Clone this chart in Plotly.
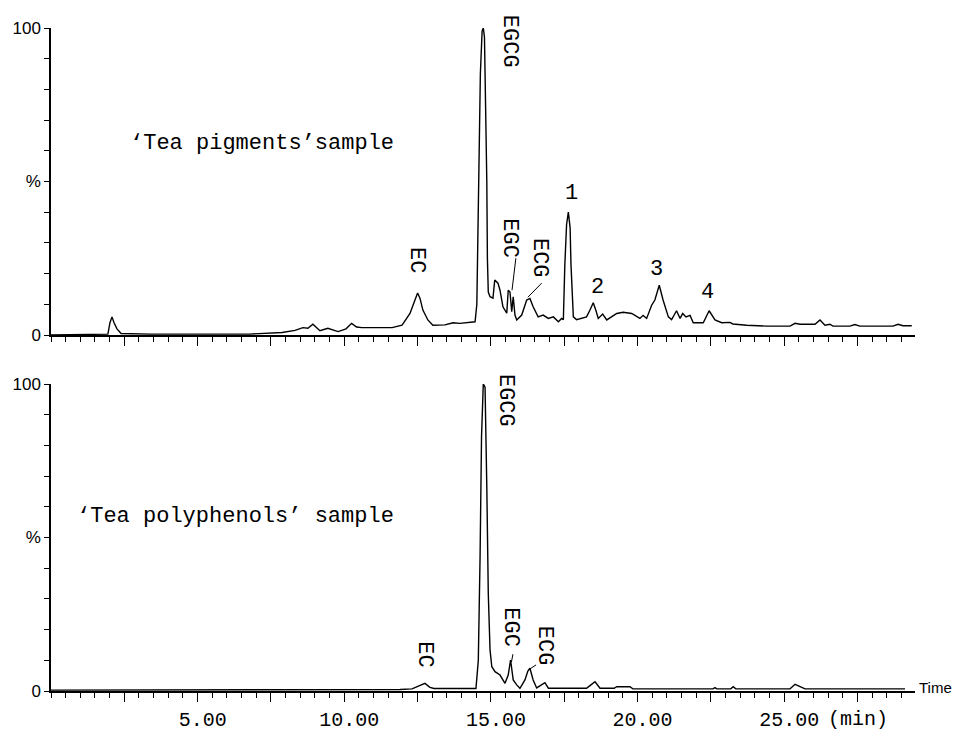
import plotly.graph_objects as go

# ---- data (retention time in min, relative intensity in %) ----
pigments_time = [0.00, 1.74, 1.94, 2.01, 2.08, 2.15, 2.25, 2.39, 3.38, 5.08, 6.78, 7.88, 8.32, 8.59, 8.76,
                 8.93, 9.17, 9.44, 9.79, 10.06, 10.25, 10.42, 10.60, 11.63, 11.83, 11.97, 12.24, 12.38, 12.50,
                 12.58, 12.68, 12.85, 13.02, 13.43, 13.71, 13.94, 14.46, 14.52, 14.59, 14.64, 14.70, 14.74,
                 14.78, 14.81, 14.86, 14.88, 14.91, 14.97, 15.07, 15.13, 15.24, 15.31, 15.41, 15.54, 15.59,
                 15.65, 15.71, 15.76, 15.82, 15.88, 16.05, 16.22, 16.33, 16.44, 16.61, 16.78, 16.96, 17.13,
                 17.30, 17.41, 17.47, 17.52, 17.58, 17.64, 17.70, 17.73, 17.81, 17.92, 18.26, 18.37, 18.49,
                 18.58, 18.66, 18.81, 18.95, 19.29, 19.51, 19.80, 20.08, 20.19, 20.31, 20.48, 20.59, 20.74,
                 20.87, 21.05, 21.16, 21.33, 21.45, 21.54, 21.65, 21.79, 21.90, 22.24, 22.44, 22.64, 22.87,
                 23.15, 23.25, 23.72, 24.40, 25.20, 25.37, 25.54, 26.05, 26.22, 26.39, 26.56, 26.66, 27.24,
                 27.41, 27.58, 28.71, 28.88, 29.05, 29.35]
pigments_pct = [0.0, 0.3, 0.3, 4.0, 5.9, 4.0, 2.0, 0.5, 0.3, 0.3, 0.3, 0.8, 1.5, 2.4, 2.2,
                3.5, 1.4, 2.2, 1.1, 2.0, 3.8, 2.6, 2.4, 2.4, 3.0, 3.2, 7.0, 11.0, 13.7,
                12.0, 8.1, 4.9, 3.2, 3.3, 4.0, 3.8, 4.3, 10.0, 55.0, 85.0, 99.0, 100.0,
                97.0, 80.0, 50.0, 25.0, 14.0, 12.5, 12.0, 17.9, 16.9, 14.6, 9.2, 7.1, 14.6,
                14.0, 7.6, 12.4, 6.5, 4.9, 6.5, 11.4, 11.9, 9.2, 5.9, 6.5, 5.4, 5.9,
                4.3, 5.4, 5.0, 22.7, 36.0, 40.0, 35.0, 23.0, 5.9, 5.0, 5.9, 8.0, 10.5,
                8.0, 5.4, 6.8, 4.9, 7.0, 7.4, 7.0, 5.4, 6.4, 5.4, 9.7, 11.4, 16.2,
                11.4, 5.9, 5.0, 7.9, 5.4, 7.0, 5.9, 6.4, 4.0, 4.0, 7.9, 4.9, 4.0,
                4.1, 3.6, 3.2, 2.9, 2.9, 3.8, 3.5, 3.5, 4.9, 3.2, 3.5, 2.9, 2.9,
                3.4, 2.9, 2.9, 3.5, 3.0, 3.0]

polyphenols_time = [0.00, 5.08, 8.49, 11.90, 12.31, 12.51, 12.75, 12.92, 13.06, 14.49, 14.57, 14.63, 14.68,
                    14.74, 14.80, 14.86, 14.91, 14.97, 15.03, 15.14, 15.31, 15.48, 15.59, 15.67, 15.76, 15.88,
                    15.99, 16.16, 16.26, 16.33, 16.44, 16.56, 16.73, 16.84, 16.96, 18.26, 18.41, 18.55, 18.72,
                    19.20, 19.29, 19.74, 19.84, 22.57, 22.64, 22.70, 23.18, 23.26, 23.35, 25.20, 25.37, 25.54,
                    25.71, 29.12]
polyphenols_pct = [0.3, 0.3, 0.3, 0.5, 0.7, 1.5, 2.5, 1.2, 0.8, 0.8, 10.0, 43.7, 82.8,
                   100.0, 99.0, 66.5, 31.8, 13.4, 7.9, 6.3, 5.2, 2.5, 5.2, 10.1, 3.6, 2.0,
                   0.9, 3.6, 6.5, 7.4, 3.6, 1.0, 2.0, 2.7, 0.9, 0.9, 2.0, 3.0, 0.9,
                   0.9, 1.4, 1.4, 0.7, 0.7, 1.1, 0.7, 0.7, 1.4, 0.7, 0.7, 2.2, 1.5,
                   0.7, 0.7]

x_major_ticks = [2.5, 5, 7.5, 10, 12.5, 15, 17.5, 20, 22.5, 25, 27.5]
x_tick_labels = ["", "5.00", "", "10.00", "", "15.00", "", "20.00", "", "25.00", ""]
y_ticks = [0, 10, 20, 30, 40, 50, 60, 70, 80, 90, 100]
y_tick_labels = ["0", "", "", "", "", "%", "", "", "", "", "100"]

MONO = "Liberation Mono"
SANS = "Liberation Sans"
OFF = 8  # the page body keeps an 8px margin around the figure
W, H = 964 - OFF, 735 - OFF
ML, MT = 51 - OFF, 28 - OFF
MR = W - (915 - OFF)
MB = H - (691 - OFF)
PH = H - MT - MB  # plot-area height in px
PW = W - ML - MR

fig = go.Figure()
fig.add_trace(go.Scatter(x=pigments_time, y=pigments_pct, mode="lines",
                         line=dict(color="black", width=1.4), xaxis="x", yaxis="y", showlegend=False))
fig.add_trace(go.Scatter(x=polyphenols_time, y=polyphenols_pct, mode="lines",
                         line=dict(color="black", width=1.4), xaxis="x2", yaxis="y2", showlegend=False))

xrange = [0, 29.46]


def xaxis_cfg(labels, anchor):
    return dict(domain=[0, 1], range=xrange, anchor=anchor, showgrid=False, zeroline=False,
                showline=True, linecolor="black", linewidth=1.5, automargin=False,
                tickmode="array", tickvals=x_major_ticks,
                ticktext=labels if labels else [""] * len(x_major_ticks),
                ticks="outside", ticklen=9, tickwidth=1.3, tickcolor="black",
                minor=dict(tick0=0, dtick=0.5, ticks="outside", ticklen=5, tickwidth=1.1,
                           tickcolor="black", showgrid=False),
                tickfont=dict(family=MONO, size=20, color="black"), ticklabelshift=5,
                ticklabelstandoff=0, fixedrange=True)


def yaxis_cfg(dom, anchor):
    return dict(domain=dom, range=[0, 100], anchor=anchor, showgrid=False, zeroline=False,
                showline=True, linecolor="black", linewidth=1.5, automargin=False,
                tickmode="array", tickvals=y_ticks, ticktext=y_tick_labels,
                ticks="outside", ticklen=5, tickwidth=1.1, tickcolor="black",
                tickfont=dict(family=SANS, size=17, color="black"), fixedrange=True)


fig.update_layout(
    width=W, height=H, margin=dict(l=ML, r=MR, t=MT, b=MB, autoexpand=False),
    paper_bgcolor="white", plot_bgcolor="white",
    xaxis=xaxis_cfg(None, "y"),
    xaxis2=xaxis_cfg(x_tick_labels, "y2"),
    yaxis=yaxis_cfg([(691 - 335) / PH, 1.0], "x"),
    yaxis2=yaxis_cfg([0.0, (691 - 384) / PH], "x2"),
)

ann = []


def vlabel(text, x, y, xr, yr):
    ann.append(dict(text=text, x=x, y=y, xref=xr, yref=yr, showarrow=False, textangle=90,
                    font=dict(family=MONO, size=22, color="black")))


def hlabel(text, x, y, xr, yr, anchor="center", size=22):
    ann.append(dict(text=text, x=x, y=y, xref=xr, yref=yr, showarrow=False, xanchor=anchor,
                    font=dict(family=MONO, size=size, color="black")))


# top panel labels
vlabel("EC", 12.48, 24.4, "x", "y")
vlabel("EGCG", 15.62, 95.8, "x", "y")
vlabel("EGC", 15.65, 31.5, "x", "y")
vlabel("ECG", 16.65, 25.0, "x", "y")
hlabel("1", 17.75, 46.1, "x", "y")
hlabel("2", 18.65, 15.6, "x", "y")
hlabel("3", 20.63, 21.4, "x", "y")
hlabel("4", 22.40, 14.0, "x", "y")
hlabel("\u2018Tea pigments\u2019sample", 2.63, 62.3, "x", "y", anchor="left")

# bottom panel labels
vlabel("EC", 12.75, 12.0, "x2", "y2")
vlabel("EGCG", 15.48, 94.8, "x2", "y2")
vlabel("EGC", 15.68, 20.8, "x2", "y2")
vlabel("ECG", 16.81, 14.7, "x2", "y2")
hlabel("\u2018Tea polyphenols\u2019 sample", 0.82, 56.7, "x2", "y2", anchor="left")


def px_x(p):
    return (p - OFF - ML) / PW


def px_y(p):
    return (H - MB - (p - OFF)) / PH


ann.append(dict(text="Time", x=px_x(954), y=px_y(687), xref="paper", yref="paper", showarrow=False,
                xanchor="right", yanchor="middle", font=dict(family=SANS, size=15, color="black")))
ann.append(dict(text="(min)", x=px_x(826), y=px_y(719), xref="paper", yref="paper", showarrow=False,
                xanchor="left", yanchor="middle", font=dict(family=MONO, size=20, color="black")))
fig.update_layout(annotations=ann)

# leader lines
leaders = [
    ("x", "y", 15.85, 25.0, 15.72, 14.6),
    ("x", "y", 16.73, 16.9, 16.26, 12.3),
    ("x2", "y2", 15.75, 12.0, 15.70, 9.4),
    ("x2", "y2", 16.54, 8.5, 16.33, 7.2),
]
for xr, yr, x0, y0, x1, y1 in leaders:
    fig.add_shape(type="line", xref=xr, yref=yr, x0=x0, y0=y0, x1=x1, y1=y1,
                  line=dict(color="black", width=1))

fig.write_html("out.html")
